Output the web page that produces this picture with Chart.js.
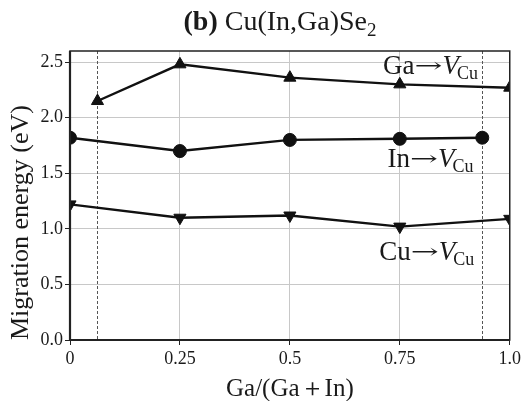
<!DOCTYPE html>
<html><head><meta charset="utf-8">
<script src="https://cdn.jsdelivr.net/npm/chart.js@4"></script>
<style>html,body{margin:0;padding:0;background:#fff}#wrap{width:524px;height:401px}</style>
</head><body><div id="wrap"><canvas id="c" width="524" height="401"></canvas></div>
<script>
const gaX = [0.0625, 0.25, 0.5, 0.75, 1.0];
const gaVals = [2.15, 2.48, 2.36, 2.30, 2.27];
const inX = [0, 0.25, 0.5, 0.75, 0.9375];
const inVals = [1.82, 1.70, 1.80, 1.81, 1.82];
const cuX = [0, 0.25, 0.5, 0.75, 1.0];
const cuVals = [1.22, 1.10, 1.12, 1.02, 1.09];
const xTicks = [0, 0.25, 0.5, 0.75, 1.0];
const xTickLabels = ['0', '0.25', '0.5', '0.75', '1.0'];
const yTicks = [0, 0.5, 1.0, 1.5, 2.0, 2.5];
const dashedX = [0.0625, 0.9375];
const seriesLabels = [
  {main: 'Ga', arrow: '\u2192', it: 'V', sub: 'Cu', x: 0.712, y: 2.39},
  {main: 'In', arrow: '\u2192', it: 'V', sub: 'Cu', x: 0.722, y: 1.56},
  {main: 'Cu', arrow: '\u2192', it: 'V', sub: 'Cu', x: 0.703, y: 0.72}
];
const FONT = '"Liberation Serif", "DejaVu Serif", serif';

function pts(xs, ys){ return xs.map((x,i)=>({x:x, y:ys[i]})); }

const overlay = {
  id: 'overlay',
  beforeDatasetsDraw(chart){
    const {ctx, chartArea:a, scales:{x}} = chart;
    ctx.save();
    ctx.strokeStyle = '#555';
    ctx.lineWidth = 1;
    ctx.setLineDash([3,2]);
    dashedX.forEach(v=>{
      const px = Math.round(x.getPixelForValue(v))+0.5;
      ctx.beginPath(); ctx.moveTo(px, a.top); ctx.lineTo(px, a.bottom); ctx.stroke();
    });
    ctx.restore();
  },
  afterDraw(chart){
    const {ctx, chartArea:a, scales:{x,y}} = chart;
    ctx.save();
    ctx.strokeStyle = '#222'; ctx.lineWidth = 1.5;
    ctx.strokeRect(a.left, a.top, a.right-a.left, a.bottom-a.top);
    ctx.lineWidth = 2.2;
    ctx.beginPath(); ctx.moveTo(a.left, a.top); ctx.lineTo(a.left, a.bottom); ctx.lineTo(a.right, a.bottom); ctx.stroke();
    ctx.fillStyle = '#1a1a1a'; ctx.textBaseline = 'alphabetic'; ctx.textAlign = 'left';
    seriesLabels.forEach(l=>{
      let px = x.getPixelForValue(l.x), py = y.getPixelForValue(l.y);
      ctx.font = '27px ' + FONT; ctx.fillText(l.main, px, py);
      px += ctx.measureText(l.main).width;
      ctx.font = '20px "DejaVu Serif", serif';
      const aw = ctx.measureText(l.arrow).width;
      ctx.save(); ctx.translate(px, py - 2); ctx.scale(28/aw, 1); ctx.fillText(l.arrow, 0, 0); ctx.restore();
      px += 28;
      ctx.font = 'italic 27px ' + FONT; ctx.fillText(l.it, px, py);
      px += ctx.measureText(l.it).width - 2;
      ctx.font = '18px ' + FONT; ctx.fillText(l.sub, px, py + 5);
    });
    const t1 = '(b) ', t2 = 'Cu(In,Ga)Se', t3 = '2';
    ctx.font = 'bold 28px ' + FONT; const w1 = ctx.measureText(t1).width;
    ctx.font = '28px ' + FONT; const w2 = ctx.measureText(t2).width;
    ctx.font = '19px ' + FONT; const w3 = ctx.measureText(t3).width;
    let tx = 280 - (w1+w2+w3)/2; const ty = 30;
    ctx.font = 'bold 28px ' + FONT; ctx.fillText(t1, tx, ty); tx += w1;
    ctx.font = '28px ' + FONT; ctx.fillText(t2, tx, ty); tx += w2;
    ctx.font = '19px ' + FONT; ctx.fillText(t3, tx, ty + 6);
    ctx.restore();
  }
};

const common = {borderColor:'#111', backgroundColor:'#111', borderWidth:2.4, pointBorderWidth:1, showLine:true, tension:0};
new Chart(document.getElementById('c'), {
  type: 'scatter',
  data: { datasets: [
    Object.assign({label:'Ga', data: pts(gaX, gaVals), pointStyle:'triangle', pointRadius:7}, common),
    Object.assign({label:'In', data: pts(inX, inVals), pointStyle:'circle', pointRadius:6.5}, common),
    Object.assign({label:'Cu', data: pts(cuX, cuVals), pointStyle:'triangle', rotation:180, pointRadius:7}, common)
  ]},
  options: {
    responsive:false, animation:false, devicePixelRatio:1,
    layout:{padding:{top:51, right:10, left:0, bottom:0}},
    plugins:{legend:{display:false}, tooltip:{enabled:false}, title:{display:false}},
    scales:{
      x:{type:'linear', min:0, max:1,
        afterBuildTicks(s){ s.ticks = xTicks.map(v=>({value:v})); },
        afterFit(s){ s.height = 61; },
        grid:{color:'#c8c8c8', lineWidth:1, drawTicks:true, tickLength:5, tickColor:'#222'},
        border:{display:false},
        ticks:{color:'#1a1a1a', font:{family:FONT, size:18}, padding:3, maxRotation:0,
          callback:(v)=>{ const i = xTicks.indexOf(v); return i>=0 ? xTickLabels[i] : ''; }},
        title:{display:true, text:'Ga/(Ga\uff0bIn)', color:'#1a1a1a', font:{family:FONT, size:25}, padding:{top:0, bottom:-3}}
      },
      y:{type:'linear', min:0, max:2.6,
        afterBuildTicks(s){ s.ticks = yTicks.map(v=>({value:v})); },
        afterFit(s){ s.width = 70; },
        grid:{color:'#c8c8c8', lineWidth:1, drawTicks:true, tickLength:5, tickColor:'#222'},
        border:{display:false},
        ticks:{color:'#1a1a1a', font:{family:FONT, size:18}, padding:2, callback:(v)=>Number(v).toFixed(1)},
        title:{display:true, text:'Migration energy (eV)', color:'#1a1a1a', align:'start', font:{family:FONT, size:26}, padding:{top:6, bottom:0}}
      }
    }
  },
  plugins:[overlay]
});
</script>
</body></html>
